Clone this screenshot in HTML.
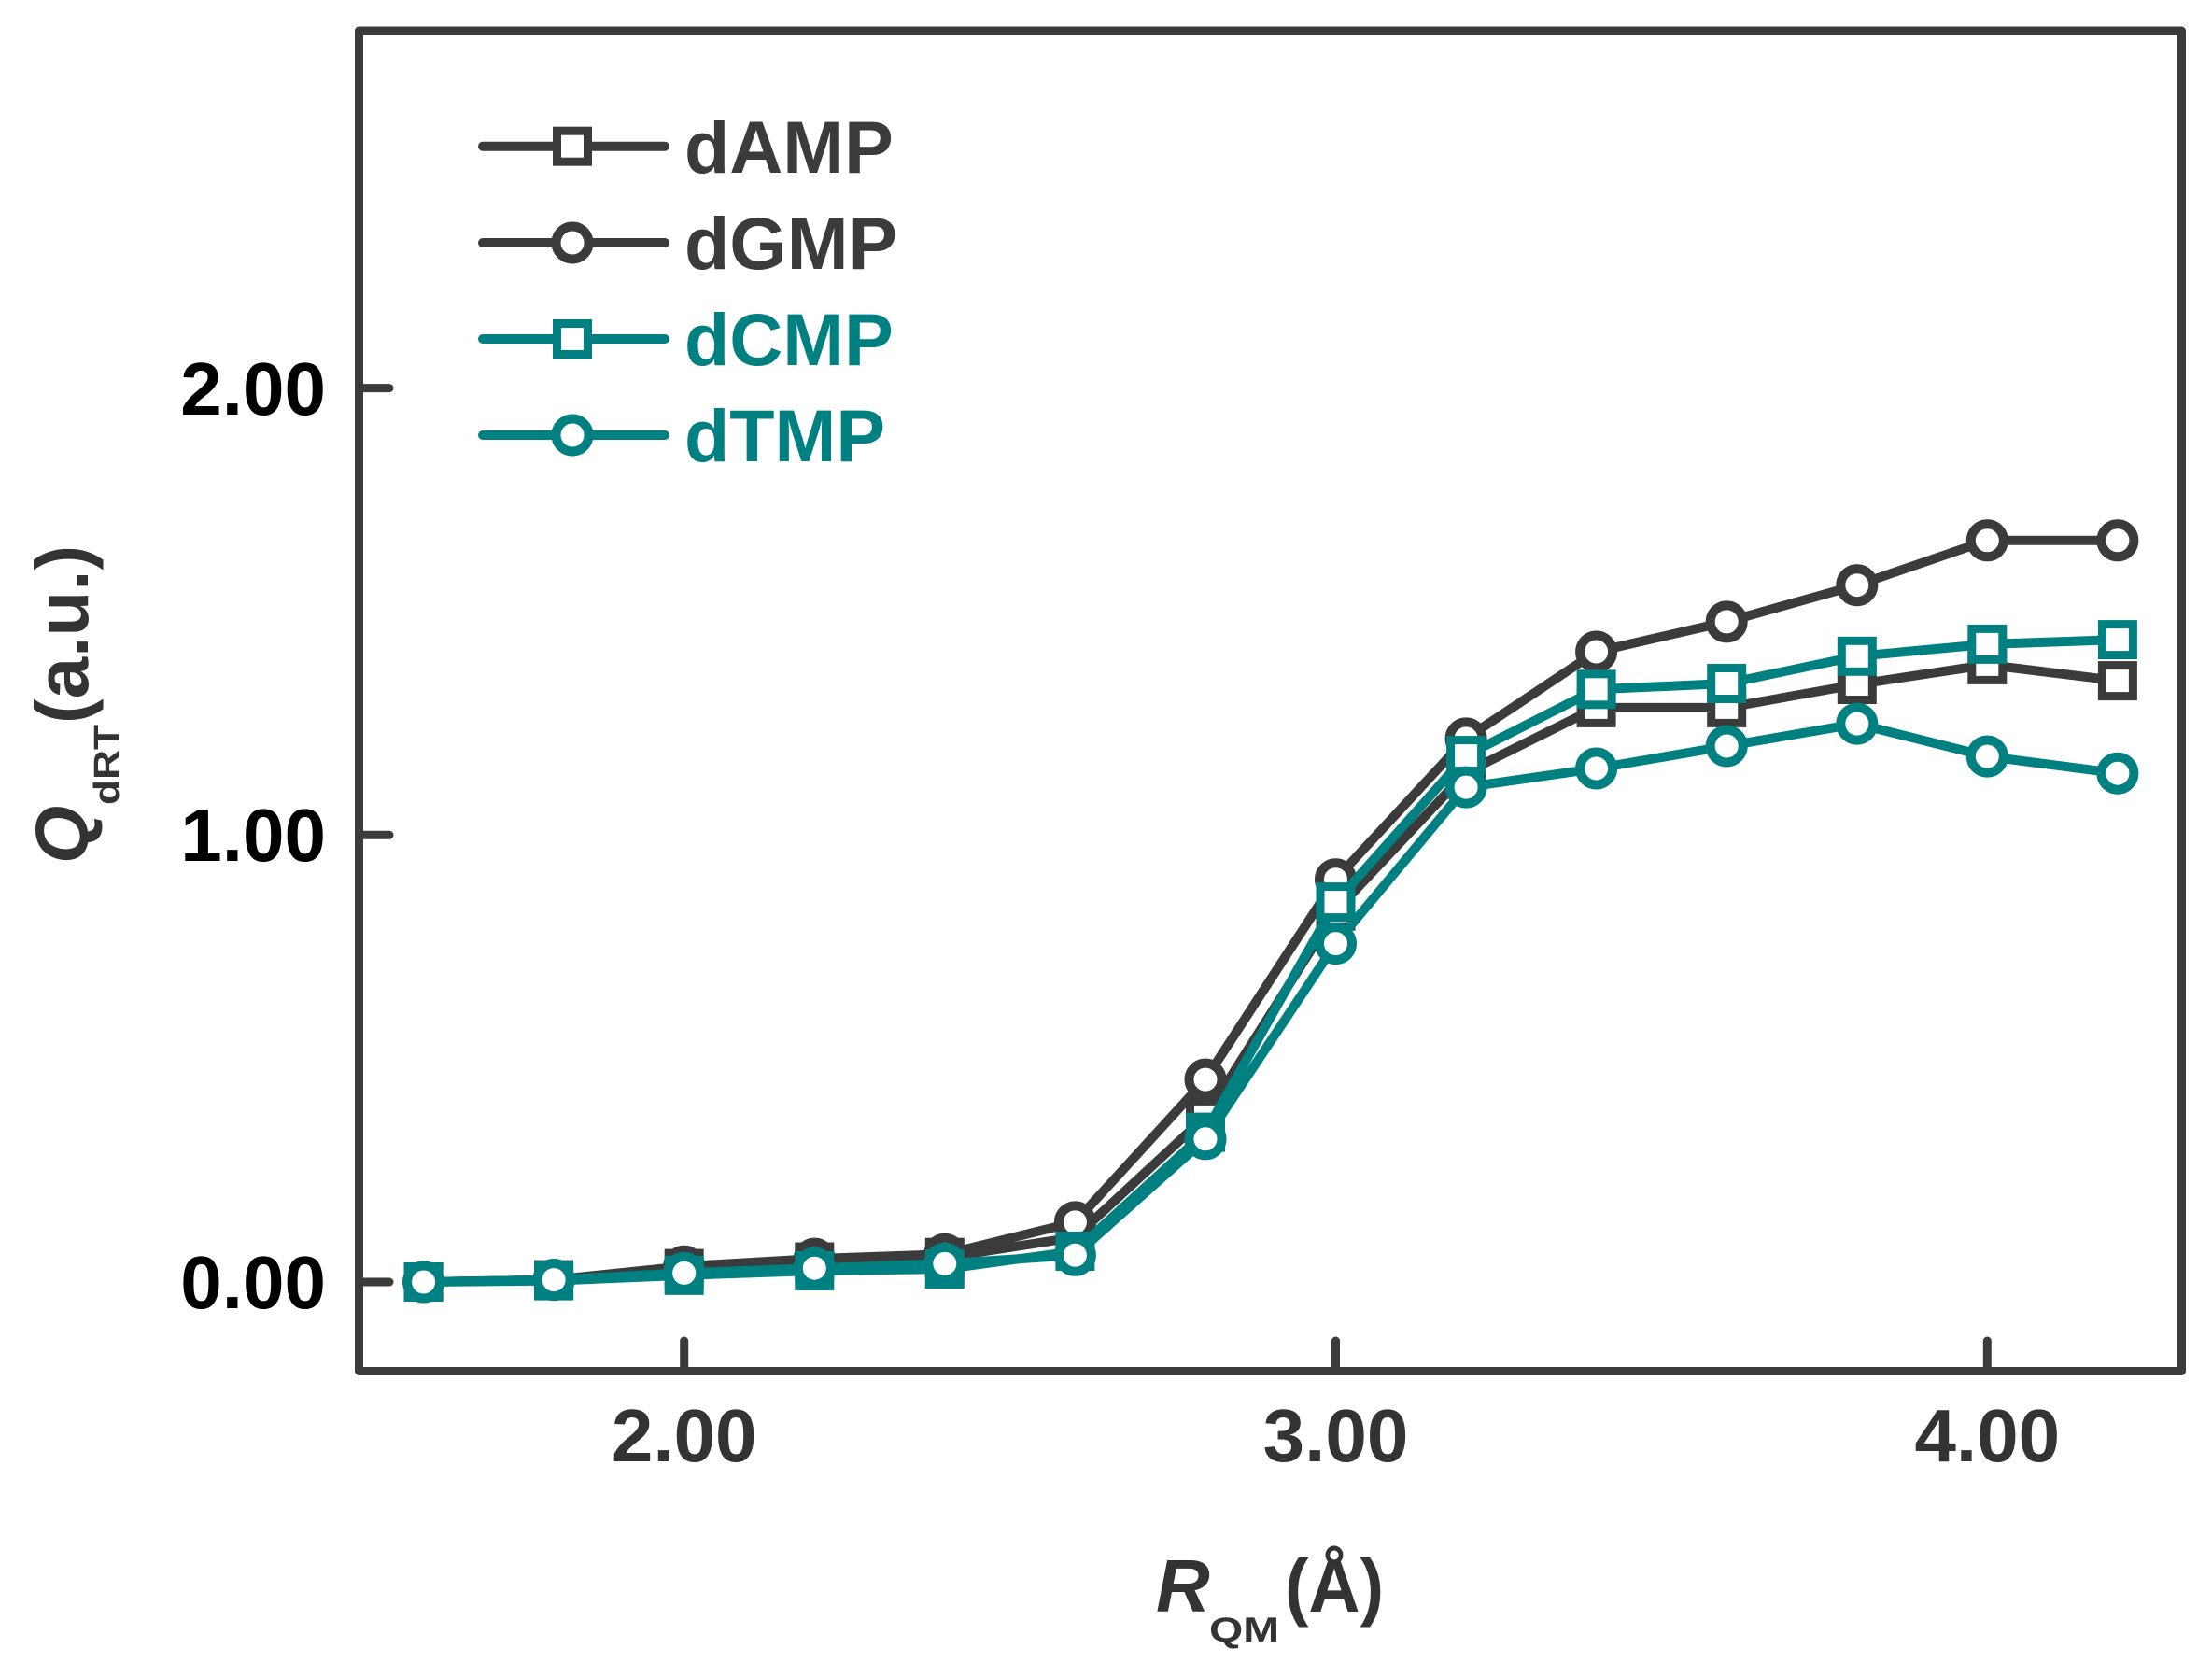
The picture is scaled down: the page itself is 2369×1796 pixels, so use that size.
<!DOCTYPE html>
<html>
<head>
<meta charset="utf-8">
<style>
  html, body { margin: 0; padding: 0; background: #ffffff; }
  svg { display: block; }
  text { font-family: "Liberation Sans", Arial, sans-serif; }
</style>
</head>
<body>
<svg width="2369" height="1796" viewBox="0 0 2369 1796" xmlns="http://www.w3.org/2000/svg">
  <rect x="0" y="0" width="2369" height="1796" fill="#ffffff"/>

  <!-- frame -->
  <rect x="384.5" y="33" width="1952" height="1435.5" fill="none" stroke="#3b3b3b" stroke-width="9" stroke-linejoin="round"/>

  <!-- ticks -->
  <g stroke="#3b3b3b" stroke-width="9" stroke-linecap="round">
    <line x1="384.5" y1="1373" x2="417" y2="1373"/>
    <line x1="384.5" y1="894.3" x2="417" y2="894.3"/>
    <line x1="384.5" y1="415.6" x2="417" y2="415.6"/>
    <line x1="732.7" y1="1468.5" x2="732.7" y2="1436"/>
    <line x1="1430.5" y1="1468.5" x2="1430.5" y2="1436"/>
    <line x1="2128.3" y1="1468.5" x2="2128.3" y2="1436"/>
  </g>

  <!-- y tick labels -->
  <g font-size="80" font-weight="bold" fill="#000" text-anchor="end">
    <text x="349" y="1401">0.00</text>
    <text x="349" y="922">1.00</text>
    <text x="349" y="444">2.00</text>
  </g>

  <!-- x tick labels -->
  <g font-size="80" font-weight="bold" fill="#333" text-anchor="middle">
    <text x="732.7" y="1565">2.00</text>
    <text x="1430.5" y="1565">3.00</text>
    <text x="2128.3" y="1565">4.00</text>
  </g>

  <!-- x axis title -->
  <text x="1238" y="1726" font-size="80" font-weight="bold" font-style="italic" fill="#333">R</text>
  <text x="1295" y="1758" font-size="37" font-weight="bold" fill="#333" textLength="75" lengthAdjust="spacingAndGlyphs">QM</text>
  <text x="1376" y="1726" font-size="80" font-weight="bold" fill="#333" textLength="106" lengthAdjust="spacingAndGlyphs">(Å)</text>

  <!-- y axis title -->
  <g transform="translate(94,925) rotate(-90)" fill="#333">
    <text x="0" y="0" font-size="80" font-weight="bold" font-style="italic">Q</text>
    <text x="63" y="33" font-size="38" font-weight="bold" textLength="86" lengthAdjust="spacingAndGlyphs">dRT</text>
    <text x="150" y="0" font-size="80" font-weight="bold">(a.u.)</text>
  </g>

  <!-- dAMP -->
  <g fill="none" stroke-width="10" stroke-linejoin="round" stroke-linecap="round">
    <polyline stroke="#3b3b3b" points="453.6,1373 593.1,1370.6 732.7,1358.6 872.3,1351.5 1011.8,1346.7 1151.4,1325.1 1291,1195.9 1430.5,975.7 1570.1,827.3 1709.6,757.9 1849.2,757.9 1988.8,733 2128.3,711.9 2267.9,729.1"/>
  </g>
  <g fill="#fff" stroke="#3b3b3b" stroke-width="9">
    <rect x="437.1" y="1356.5" width="33" height="33"/>
    <rect x="576.6" y="1354.1" width="33" height="33"/>
    <rect x="716.2" y="1342.1" width="33" height="33"/>
    <rect x="855.8" y="1335" width="33" height="33"/>
    <rect x="995.3" y="1330.2" width="33" height="33"/>
    <rect x="1134.9" y="1308.6" width="33" height="33"/>
    <rect x="1274.5" y="1179.4" width="33" height="33"/>
    <rect x="1414" y="959.2" width="33" height="33"/>
    <rect x="1553.6" y="810.8" width="33" height="33"/>
    <rect x="1693.1" y="741.4" width="33" height="33"/>
    <rect x="1832.7" y="741.4" width="33" height="33"/>
    <rect x="1972.3" y="716.5" width="33" height="33"/>
    <rect x="2111.8" y="695.4" width="33" height="33"/>
    <rect x="2251.4" y="712.6" width="33" height="33"/>
  </g>

  <!-- dGMP -->
  <g fill="none" stroke-width="10" stroke-linejoin="round" stroke-linecap="round">
    <polyline stroke="#3b3b3b" points="453.6,1373 593.1,1370.6 732.7,1356.2 872.3,1348.1 1011.8,1343.3 1151.4,1308.9 1291,1156.1 1430.5,941.7 1570.1,790.9 1709.6,698 1849.2,665.9 1988.8,626.7 2128.3,578.8 2267.9,578.8"/>
  </g>
  <g fill="#fff" stroke="#3b3b3b" stroke-width="10">
    <circle cx="453.6" cy="1373" r="17.5"/>
    <circle cx="593.1" cy="1370.6" r="17.5"/>
    <circle cx="732.7" cy="1356.2" r="17.5"/>
    <circle cx="872.3" cy="1348.1" r="17.5"/>
    <circle cx="1011.8" cy="1343.3" r="17.5"/>
    <circle cx="1151.4" cy="1308.9" r="17.5"/>
    <circle cx="1291" cy="1156.1" r="17.5"/>
    <circle cx="1430.5" cy="941.7" r="17.5"/>
    <circle cx="1570.1" cy="790.9" r="17.5"/>
    <circle cx="1709.6" cy="698" r="17.5"/>
    <circle cx="1849.2" cy="665.9" r="17.5"/>
    <circle cx="1988.8" cy="626.7" r="17.5"/>
    <circle cx="2128.3" cy="578.8" r="17.5"/>
    <circle cx="2267.9" cy="578.8" r="17.5"/>
  </g>

  <!-- dCMP -->
  <g fill="none" stroke-width="10" stroke-linejoin="round" stroke-linecap="round">
    <polyline stroke="#008080" points="453.6,1373 593.1,1371.6 732.7,1365.8 872.3,1361 1011.8,1359.1 1151.4,1340 1291,1212.6 1430.5,966.1 1570.1,809.1 1709.6,738.3 1849.2,732 1988.8,702.8 2128.3,689.9 2267.9,685.1"/>
  </g>
  <g fill="#fff" stroke="#008080" stroke-width="9">
    <rect x="437.1" y="1356.5" width="33" height="33"/>
    <rect x="576.6" y="1355.1" width="33" height="33"/>
    <rect x="716.2" y="1349.3" width="33" height="33"/>
    <rect x="855.8" y="1344.5" width="33" height="33"/>
    <rect x="995.3" y="1342.6" width="33" height="33"/>
    <rect x="1134.9" y="1323.5" width="33" height="33"/>
    <rect x="1274.5" y="1196.1" width="33" height="33"/>
    <rect x="1414" y="949.6" width="33" height="33"/>
    <rect x="1553.6" y="792.6" width="33" height="33"/>
    <rect x="1693.1" y="721.8" width="33" height="33"/>
    <rect x="1832.7" y="715.5" width="33" height="33"/>
    <rect x="1972.3" y="686.3" width="33" height="33"/>
    <rect x="2111.8" y="673.4" width="33" height="33"/>
    <rect x="2251.4" y="668.6" width="33" height="33"/>
  </g>

  <!-- dTMP -->
  <g fill="none" stroke-width="10" stroke-linejoin="round" stroke-linecap="round">
    <polyline stroke="#008080" points="453.6,1373 593.1,1370.6 732.7,1363.4 872.3,1358.2 1011.8,1353.4 1151.4,1344.3 1291,1219.8 1430.5,1010.6 1570.1,843.1 1709.6,823 1849.2,799 1988.8,775.1 2128.3,810.1 2267.9,828.2"/>
  </g>
  <g fill="#fff" stroke="#008080" stroke-width="10">
    <circle cx="453.6" cy="1373" r="17.5"/>
    <circle cx="593.1" cy="1370.6" r="17.5"/>
    <circle cx="732.7" cy="1363.4" r="17.5"/>
    <circle cx="872.3" cy="1358.2" r="17.5"/>
    <circle cx="1011.8" cy="1353.4" r="17.5"/>
    <circle cx="1151.4" cy="1344.3" r="17.5"/>
    <circle cx="1291" cy="1219.8" r="17.5"/>
    <circle cx="1430.5" cy="1010.6" r="17.5"/>
    <circle cx="1570.1" cy="843.1" r="17.5"/>
    <circle cx="1709.6" cy="823" r="17.5"/>
    <circle cx="1849.2" cy="799" r="17.5"/>
    <circle cx="1988.8" cy="775.1" r="17.5"/>
    <circle cx="2128.3" cy="810.1" r="17.5"/>
    <circle cx="2267.9" cy="828.2" r="17.5"/>
  </g>

  <!-- legend -->
  <g stroke-width="10" stroke-linecap="round">
    <line x1="517" y1="156.7" x2="712" y2="156.7" stroke="#3b3b3b"/>
    <line x1="517" y1="260" x2="712" y2="260" stroke="#3b3b3b"/>
    <line x1="517" y1="363" x2="712" y2="363" stroke="#008080"/>
    <line x1="517" y1="466" x2="712" y2="466" stroke="#008080"/>
  </g>
  <rect x="596.5" y="140.2" width="33" height="33" fill="#fff" stroke="#3b3b3b" stroke-width="9"/>
  <circle cx="613" cy="260" r="17.5" fill="#fff" stroke="#3b3b3b" stroke-width="10"/>
  <rect x="596.5" y="346.5" width="33" height="33" fill="#fff" stroke="#008080" stroke-width="9"/>
  <circle cx="613" cy="466" r="17.5" fill="#fff" stroke="#008080" stroke-width="10"/>

  <g font-size="79" font-weight="bold">
    <text x="733" y="185" fill="#3b3b3b">dAMP</text>
    <text x="733" y="288" fill="#3b3b3b">dGMP</text>
    <text x="733" y="391" fill="#008080">dCMP</text>
    <text x="733" y="494" fill="#008080">dTMP</text>
  </g>
</svg>
</body>
</html>
